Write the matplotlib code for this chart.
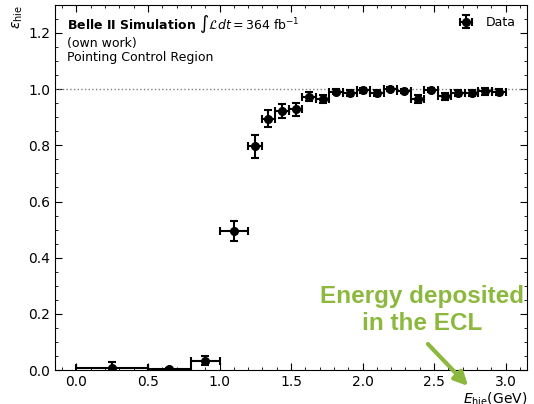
import numpy as np
import matplotlib.pyplot as plt
from matplotlib.patches import FancyArrowPatch
from matplotlib.ticker import MultipleLocator

# Efficiency vs. deposited energy, pointing control region
bin_edges = np.concatenate([[0.0, 0.5, 0.8, 1.0], np.linspace(1.2, 3.0, 20)])
eff = [0.008, 0.004, 0.033, 0.495,
       0.796, 0.895, 0.921, 0.928, 0.973, 0.965, 0.991, 0.986, 0.996, 0.987,
       1.000, 0.993, 0.965, 0.997, 0.975, 0.986, 0.986, 0.992, 0.990]
eff_err = [0.022, 0.004, 0.016, 0.035,
           0.040, 0.030, 0.025, 0.024, 0.015, 0.015, 0.010, 0.012, 0.009, 0.010,
           0.008, 0.008, 0.014, 0.008, 0.012, 0.010, 0.012, 0.012, 0.010]

centers = 0.5 * (bin_edges[1:] + bin_edges[:-1])
half_w = 0.5 * np.diff(bin_edges)

fig = plt.figure(figsize=(5.34, 4.04), dpi=100)
ax = fig.add_axes([0.103, 0.084, 0.884, 0.904])

ax.axhline(1.0, color='gray', ls=':', lw=1)
ax.errorbar(centers, eff, xerr=half_w, yerr=eff_err, fmt='o', color='black',
            markersize=5.5, elinewidth=1.5, capsize=3, capthick=1.5, label='Data')

ax.set_xlim(-0.15, 3.15)
ax.set_ylim(0, 1.3)
ax.xaxis.set_major_locator(MultipleLocator(0.5))
ax.xaxis.set_minor_locator(MultipleLocator(0.1))
ax.yaxis.set_major_locator(MultipleLocator(0.2))
ax.yaxis.set_minor_locator(MultipleLocator(0.05))
ax.tick_params(which='both', direction='in', top=True, right=True, labelsize=10)
ax.tick_params(which='major', length=5)
ax.tick_params(which='minor', length=2.5)

ax.set_xlabel(r'$E_{\rm hie}$(GeV)', loc='right', fontsize=10, labelpad=1)
ax.set_ylabel(r'$\varepsilon_{\rm hie}$', loc='top', fontsize=10, labelpad=2)

ax.text(0.025, 0.935,
        r'$\mathbf{Belle\ II\ Simulation}\ \int\mathcal{L}dt = 364$ fb$^{-1}$',
        transform=ax.transAxes, fontsize=9, va='baseline')
ax.text(0.025, 0.913, '(own work)\nPointing Control Region',
        transform=ax.transAxes, fontsize=9, va='top', linespacing=1.15)

ax.legend(loc='upper right', frameon=False, fontsize=9, handletextpad=0.6)

green = '#8cb93d'
fig.text(0.79, 0.233, 'Energy deposited\nin the ECL', color=green, fontsize=17.5,
         fontweight='bold', family='Liberation Sans', ha='center', va='center',
         linespacing=1.25)
fig.add_artist(FancyArrowPatch(
    (426 / 534, 1 - 342 / 404), (470 / 534, 1 - 388 / 404),
    transform=fig.transFigure, arrowstyle='-|>', mutation_scale=20,
    color=green, lw=3))

fig.savefig('out.png', dpi=100)
